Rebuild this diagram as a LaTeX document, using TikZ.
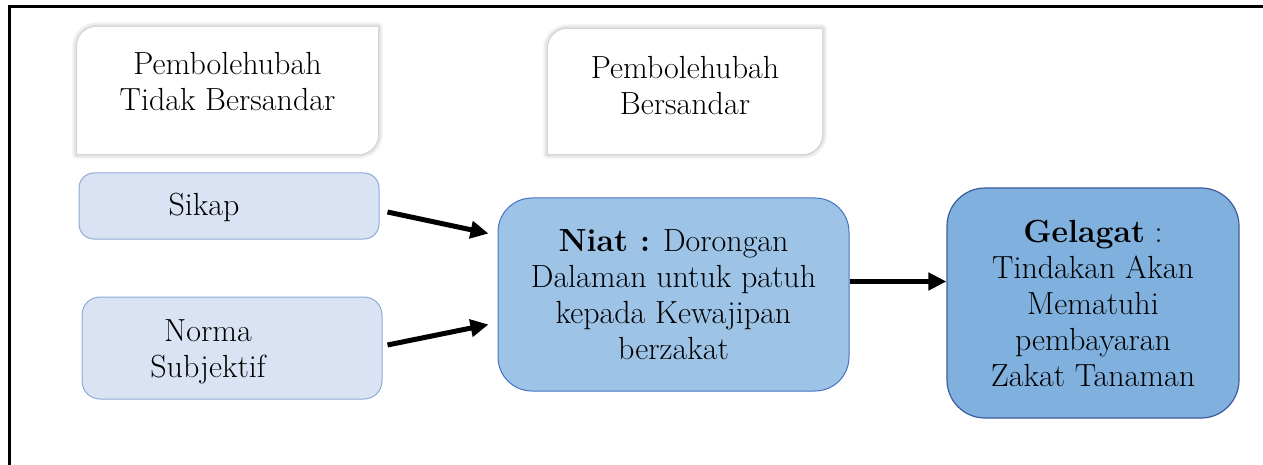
\documentclass[tikz,border=0pt]{standalone}
\usetikzlibrary{arrows.meta,backgrounds}
\definecolor{lightfill}{HTML}{DAE3F3}
\definecolor{lightline}{HTML}{8FAADC}
\definecolor{midfill}{HTML}{9DC3E6}
\definecolor{midline}{HTML}{4472C4}
\definecolor{darkfill}{HTML}{80B1DE}
\definecolor{darkline}{HTML}{3B5C9E}
\tikzset{
    head-box/.style = {rectangle, draw=none, inner sep=0pt},
    input-box/.style = {rectangle, draw=lightline, fill=lightfill, line width=1pt, rounded corners=15pt, inner sep=0pt},
    niat-box/.style = {rectangle, draw=midline, fill=midfill, line width=1pt, rounded corners=34pt, align=center, inner sep=0pt},
    gelagat-box/.style = {rectangle, draw=darkline, fill=darkfill, line width=1.2pt, rounded corners=38pt, align=center, inner sep=0pt},
    thick-arrow/.style = {line width=5pt, -{Triangle[length=18pt,width=17pt]}},
}

\begin{document}
\begin{tikzpicture}[x=1pt, y=1pt, font=\fontsize{32}{36}\selectfont]
\useasboundingbox (0,0) rectangle (1263,-465);
% frame
\draw[line width=3pt] (9.5,-465) |- (1263,-6.5);

% variable headings
\node[head-box, minimum width=301pt, minimum height=127pt,
      label={[align=center, yshift=9pt]center:Pembolehubah\\Tidak Bersandar}] (indep) at (227.5,-90.5) {};
\node[head-box, minimum width=274pt, minimum height=125pt,
      label={[align=center, yshift=6pt]center:Pembolehubah\\Bersandar}] (dep) at (685,-91.5) {};
\begin{scope}[on background layer]
\foreach \b in {indep,dep} {
    \foreach \w/\c in {9pt/black!6, 5pt/black!11, 2pt/black!18} {
        \draw[line width=\w, \c, line join=round] (\b.south west) -- ([yshift=-20pt]\b.north west) arc[start angle=180, end angle=90, radius=20pt] -- (\b.north east) -- ([yshift=20pt]\b.south east) arc[start angle=0, end angle=-90, radius=20pt] -- cycle;
    }
    \fill[white] (\b.south west) -- ([yshift=-20pt]\b.north west) arc[start angle=180, end angle=90, radius=20pt] -- (\b.north east) -- ([yshift=20pt]\b.south east) arc[start angle=0, end angle=-90, radius=20pt] -- cycle;
}
\end{scope}

% inputs
\node[input-box, minimum width=300pt, minimum height=66pt,
      label={[xshift=-25pt, yshift=-1pt]center:Sikap}] (sikap) at (229,-206) {};
\node[input-box, minimum width=300pt, minimum height=102pt, rounded corners=18pt,
      label={[align=center, xshift=-24pt, yshift=-4pt]center:Norma\\Subjektif}] (norma) at (232,-348) {};

% intention and behaviour
\node[niat-box, minimum width=351pt, minimum height=193pt] (niat) at (673.5,-294.5)
    {\textbf{Niat :} Dorongan\\Dalaman untuk patuh\\kepada Kewajipan\\berzakat};
\node[gelagat-box, minimum width=292pt, minimum height=230pt] (gelagat) at (1093,-303)
    {\textbf{Gelagat} :\\Tindakan Akan\\Mematuhi\\pembayaran\\Zakat Tanaman};

% arrows
\draw[thick-arrow] ([shift={(8,-6)}]sikap.east) -- ([shift={(-9,61)}]niat.west);
\draw[thick-arrow] ([shift={(5,3)}]norma.east) -- ([shift={(-9,-30)}]niat.west);
\draw[thick-arrow] ([yshift=13pt]niat.east) -- ([yshift=13pt]niat.east -| gelagat.west);
\end{tikzpicture}
\end{document}
